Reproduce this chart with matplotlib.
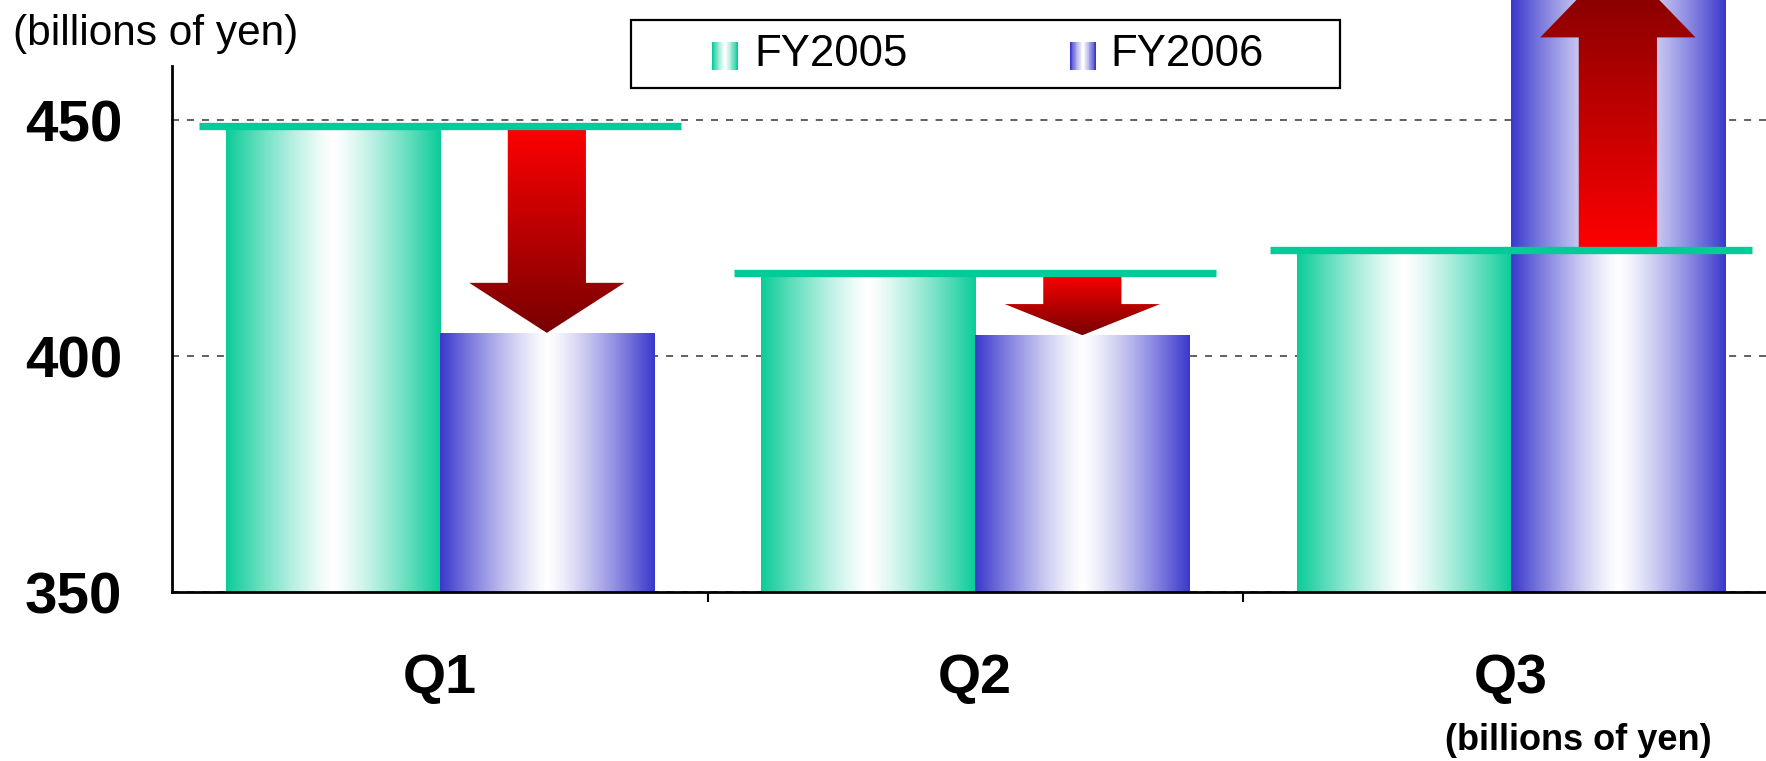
import numpy as np
import matplotlib
matplotlib.use('Agg')
import matplotlib.pyplot as plt
from matplotlib.patches import Polygon, Rectangle

# ---------------- data ----------------
quarters = ['Q1', 'Q2', 'Q3']
series_names = ['FY2005', 'FY2006']
fy2005 = [448.7, 417.6, 422.4]
fy2006 = [404.9, 404.4, 484.5]
y_ticks = [350, 400, 450]
unit_label = '(billions of yen)'

# ---------------- style ----------------
green_edge = (0.04, 0.80, 0.60)
blue_edge = (0.23, 0.22, 0.80)
line_color = '#00CC99'
bar_w = 0.4
shaft_w = 0.146
head_w = 0.29
head_len = [10.6, 6.6, 17.0]

plt.rcParams['font.family'] = ['Liberation Sans', 'DejaVu Sans']

W, H = 1766, 761
fig = plt.figure(figsize=(W / 100, H / 100), dpi=100)
ax_l = 172 / W
ax_b = (H - 592) / H
ax = fig.add_axes([ax_l, ax_b, 1 - ax_l, 1 - ax_b])

x = np.arange(len(quarters))
cat_px = 535.5
unit_px = 472 / 100.0
xlim = (-0.5, -0.5 + (W - 172) / cat_px)
ylim = (y_ticks[0], 450 + 120 / unit_px)
base_val = y_ticks[0]


def bar_gradient(edge, n=256, p=1.25):
    u = np.linspace(0, 1, n)
    t = np.abs(2 * u - 1) ** p
    e = np.array(edge)
    rgb = 1 - (1 - e)[None, :] * t[:, None]
    return rgb[None, :, :]


# bars with horizontal gradient fill
for vals, off, edge in [(fy2005, -bar_w / 2, green_edge), (fy2006, bar_w / 2, blue_edge)]:
    heights = [v - base_val for v in vals]
    bars = ax.bar(x + off, heights, bar_w, bottom=base_val, color='none', edgecolor='none', zorder=1.5)
    for b in bars:
        x0 = b.get_x()
        im = ax.imshow(bar_gradient(edge), extent=[x0, x0 + b.get_width(), base_val, base_val + b.get_height()],
                       aspect='auto', origin='lower', zorder=1.5, interpolation='bilinear')
        im.set_clip_path(b)

# arrows with vertical gradient
red = np.array([1.0, 0.0, 0.0])
dark = np.array([0.47, 0.0, 0.0])
for i in range(len(quarters)):
    xc = x[i] + bar_w / 2
    y0, y1 = fy2005[i], fy2006[i]
    s = np.sign(y1 - y0)
    base = y1 - s * head_len[i]
    pts = [(xc - shaft_w / 2, y0), (xc + shaft_w / 2, y0), (xc + shaft_w / 2, base),
           (xc + head_w / 2, base), (xc, y1), (xc - head_w / 2, base), (xc - shaft_w / 2, base)]
    poly = Polygon(pts, closed=True, facecolor='none', edgecolor='none', zorder=2.8)
    ax.add_patch(poly)
    lo, hi = min(y0, y1), max(y0, y1)
    ys = np.linspace(lo, hi, 256)
    f = (ys - y0) / (y1 - y0)
    rgb = red[None, :] * (1 - f[:, None]) + dark[None, :] * f[:, None]
    im = ax.imshow(rgb[:, None, :], extent=[xc - head_w / 2, xc + head_w / 2, lo, hi],
                   aspect='auto', origin='lower', zorder=2.8, interpolation='bilinear')
    im.set_clip_path(poly)

# FY2005 level lines
for i in range(len(quarters)):
    ax.plot([x[i] - 0.45, x[i] + 0.45], [fy2005[i], fy2005[i]], color=line_color,
            lw=5.3, solid_capstyle='butt', zorder=3)

ax.set_xlim(*xlim)
ax.set_ylim(*ylim)

# axes styling
for sp in ['top', 'right']:
    ax.spines[sp].set_visible(False)
ax.spines['left'].set_bounds(350, 450 + (120 - 66) / unit_px)
ax.spines['left'].set_linewidth(2)
ax.spines['bottom'].set_linewidth(2)
ax.spines['left'].set_zorder(4)
ax.spines['bottom'].set_zorder(4)

ax.set_yticks(y_ticks)
ax.set_yticklabels([str(v) for v in y_ticks], fontsize=42, fontweight='bold')
ax.tick_params(axis='y', length=0, pad=36)
ax.set_xticks(x)
ax.set_xticklabels(quarters, fontsize=40, fontweight='bold')
ax.tick_params(axis='x', which='major', length=0, pad=44)
ax.set_xticks([0.5, 1.5], minor=True)
ax.tick_params(axis='x', which='minor', length=7, width=1.5, direction='out')

ax.set_axisbelow(True)
ax.yaxis.grid(True, linestyle=(0, (3.6, 4.1)), color='#606060', lw=1.4)
ax.set_facecolor('white')

# unit labels
fig.text(13 / W, 1 - 34 / H, unit_label, ha='left', va='center', fontsize=30.5)
fig.text(1578 / W, 1 - 741 / H, unit_label, ha='center', va='center', fontsize=26, fontweight='bold')

# legend (manual)
fig.patches.append(Rectangle((631 / W, 1 - 88 / H), 709 / W, 68 / H, transform=fig.transFigure,
                             facecolor='white', edgecolor='black', lw=1.6, zorder=5))
handle_x = [712, 1070]
text_x = [754, 1110]
for name, edge, hx, tx in zip(series_names, [green_edge, blue_edge], handle_x, text_x):
    hax = fig.add_axes([hx / W, 1 - 70 / H, 26 / W, 28 / H], zorder=6)
    hax.imshow(bar_gradient(edge, 32), aspect='auto', interpolation='nearest')
    hax.axis('off')
    fig.text(tx / W, 1 - 54 / H, name, ha='left', va='center', fontsize=31.5, zorder=7)

fig.savefig('out.png', dpi=100)
